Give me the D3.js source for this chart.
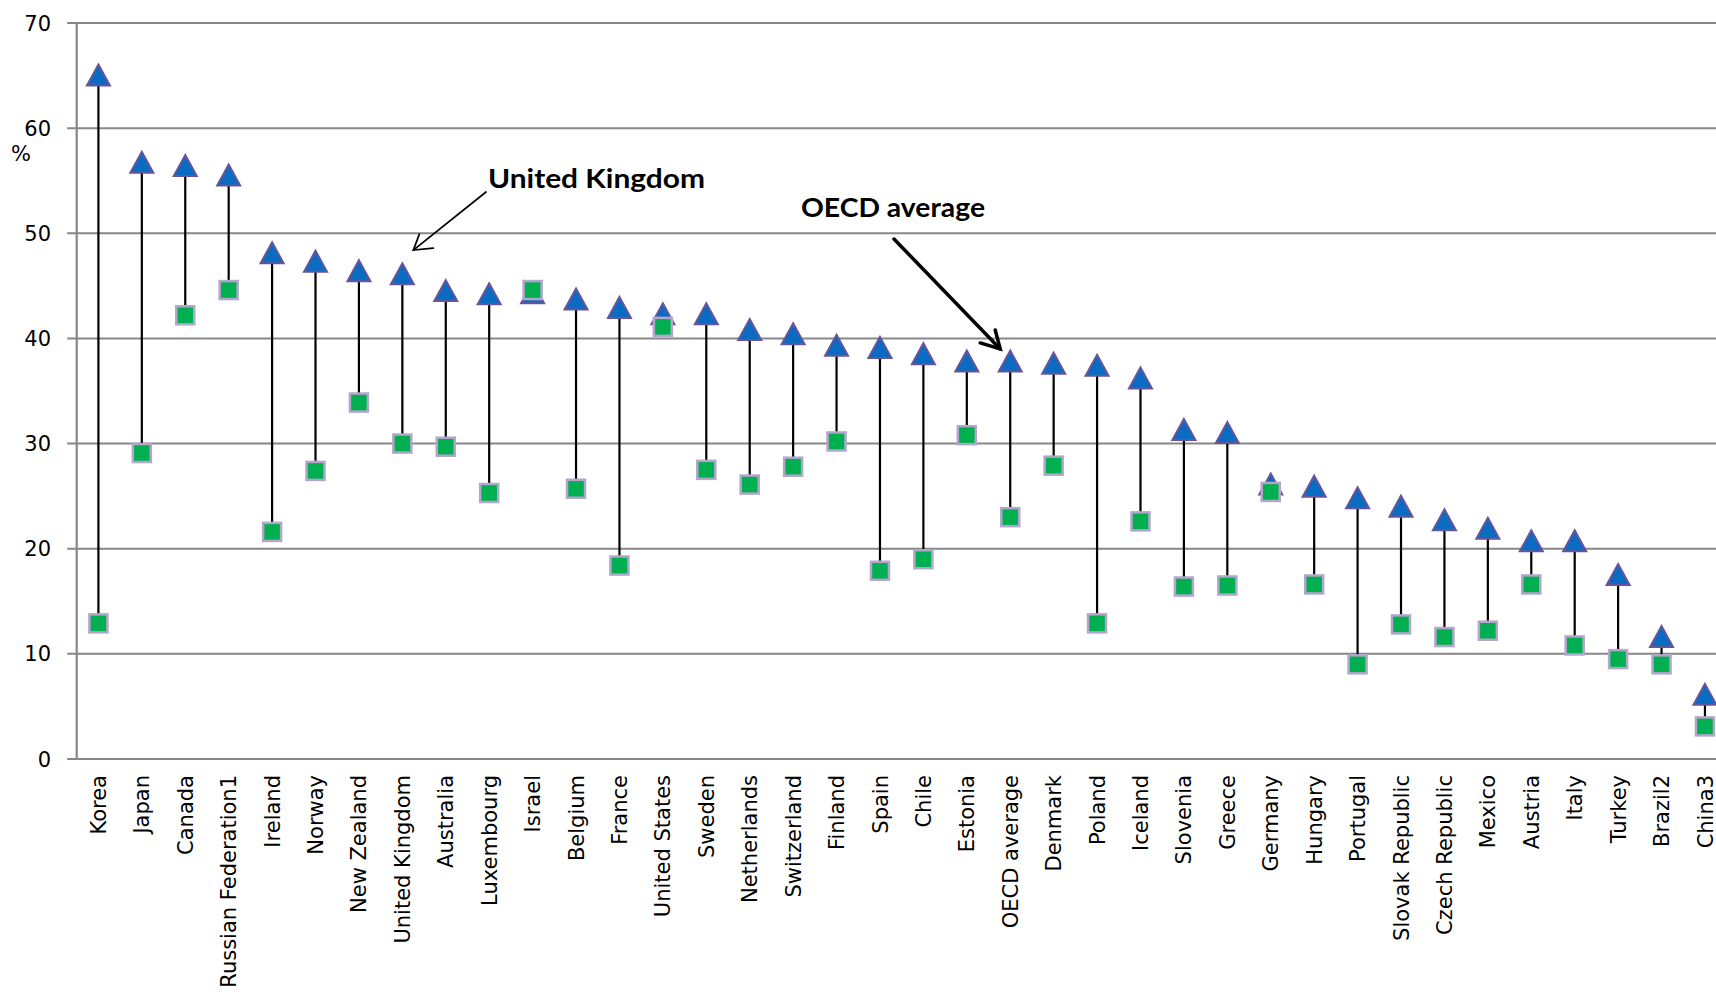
<!DOCTYPE html>
<html lang="en">
<head>
  <meta charset="UTF-8" />
  <title>Tertiary attainment by age group</title>
  <style>
    body {
      margin: 0;
      background: #fff;
    }
    svg {
      display: block;
    }
    .tick-label, .cat-label, .unit {
      font-family: "DejaVu Sans", Verdana, sans-serif;
      font-size: 21px;
      fill: #000;
    }
    .note {
      font-family: Lato, "Open Sans", sans-serif;
      font-weight: bold;
      font-size: 27px;
      fill: #000;
    }
  </style>
</head>
<body>
  <div id="chart"></div>

  <script src="https://d3js.org/d3.v7.min.js"></script>

  <script>
    // countries, in the order they appear on the axis
    const countries = [
      "Korea", "Japan", "Canada", "Russian Federation1", "Ireland", "Norway",
      "New Zealand", "United Kingdom", "Australia", "Luxembourg", "Israel",
      "Belgium", "France", "United States", "Sweden", "Netherlands",
      "Switzerland", "Finland", "Spain", "Chile", "Estonia", "OECD average",
      "Denmark", "Poland", "Iceland", "Slovenia", "Greece", "Germany",
      "Hungary", "Portugal", "Slovak Republic", "Czech Republic", "Mexico",
      "Austria", "Italy", "Turkey", "Brazil2", "China3"
    ];

    // triangles (younger group), %
    const younger = [
      65.0, 56.7, 56.4, 55.5, 48.1, 47.3,
      46.4, 46.1, 44.5, 44.2, 44.3,
      43.7, 42.9, 42.3, 42.3, 40.8,
      40.4, 39.3, 39.1, 38.5, 37.8, 37.8,
      37.6, 37.4, 36.2, 31.3, 31.0, 26.1,
      25.9, 24.8, 24.0, 22.7, 21.9,
      20.7, 20.7, 17.5, 11.6, 6.1
    ];

    // squares (older group), %
    const older = [
      12.9, 29.1, 42.2, 44.6, 21.6, 27.4,
      33.9, 30.0, 29.7, 25.3, 44.6,
      25.7, 18.4, 41.1, 27.5, 26.1,
      27.8, 30.2, 17.9, 19.0, 30.8, 23.0,
      27.9, 12.9, 22.6, 16.4, 16.5, 25.4,
      16.6, 9.0, 12.8, 11.6, 12.2,
      16.6, 10.8, 9.5, 9.0, 3.1
    ];

    const yTicks = [0, 10, 20, 30, 40, 50, 60, 70];

    const data = countries.map((c, i) => ({ name: c, hi: younger[i], lo: older[i] }));

    const W = 1716, H = 995;
    const plotLeft = 76.7, plotTop = 23, plotBottom = 759;
    const step = 43.42;

    const svg = d3.select("#chart")
      .append("svg")
      .attr("width", W)
      .attr("height", H);

    const x = d3.scalePoint()
      .domain(countries)
      .range([plotLeft, plotLeft + step * countries.length])
      .padding(0.5);

    const y = d3.scaleLinear()
      .domain([0, 70])
      .range([plotBottom, plotTop]);

    // gridlines + ticks
    svg.append("g")
      .selectAll("line")
      .data(yTicks)
      .enter()
      .append("line")
      .attr("x1", plotLeft - 9.5)
      .attr("x2", W)
      .attr("y1", d => y(d))
      .attr("y2", d => y(d))
      .attr("stroke", "#878787")
      .attr("stroke-width", 2);

    // y axis line
    svg.append("line")
      .attr("x1", plotLeft).attr("x2", plotLeft)
      .attr("y1", y(70)).attr("y2", y(0))
      .attr("stroke", "#878787")
      .attr("stroke-width", 2.2);

    svg.append("g")
      .selectAll("text")
      .data(yTicks)
      .enter()
      .append("text")
      .attr("class", "tick-label")
      .attr("x", 51)
      .attr("y", d => y(d))
      .attr("dy", "0.36em")
      .attr("text-anchor", "end")
      .text(d => d);

    svg.append("text")
      .attr("class", "unit")
      .attr("x", 21)
      .attr("y", 161)
      .attr("text-anchor", "middle")
      .text("%");

    // category labels, rotated
    svg.append("g")
      .selectAll("text")
      .data(countries)
      .enter()
      .append("text")
      .attr("class", "cat-label")
      .attr("transform", d => `translate(${x(d)},775) rotate(-90)`)
      .attr("dy", "0.36em")
      .attr("text-anchor", "end")
      .text(d => d);

    // high-low lines
    svg.append("g")
      .selectAll("line")
      .data(data)
      .enter()
      .append("line")
      .attr("x1", d => x(d.name))
      .attr("x2", d => x(d.name))
      .attr("y1", d => y(d.hi))
      .attr("y2", d => y(d.lo))
      .attr("stroke", "#000")
      .attr("stroke-width", 2.2);

    // triangles
    svg.append("g")
      .selectAll("path")
      .data(data)
      .enter()
      .append("path")
      .attr("transform", d => `translate(${x(d.name)},${y(d.hi)})`)
      .attr("d", "M0,-11 L11.5,10 L-11.5,10 Z")
      .attr("fill", "#0A6BC2")
      .attr("stroke", "#67559A")
      .attr("stroke-width", 2)
      .attr("stroke-linejoin", "miter");

    // squares
    svg.append("g")
      .selectAll("rect")
      .data(data)
      .enter()
      .append("rect")
      .attr("x", d => x(d.name) - 9)
      .attr("y", d => y(d.lo) - 9)
      .attr("width", 18)
      .attr("height", 18)
      .attr("fill", "#00B050")
      .attr("stroke", "#B3A5CC")
      .attr("stroke-width", 2.5);

    // annotations
    function arrow(from, tip, wingA, wingB, w) {
      const g = svg.append("g")
        .attr("stroke", "#000")
        .attr("stroke-width", w)
        .attr("stroke-linecap", "round")
        .attr("fill", "none");
      g.append("line")
        .attr("x1", from[0]).attr("y1", from[1])
        .attr("x2", tip[0]).attr("y2", tip[1]);
      g.append("path")
        .attr("d", `M${wingA[0]},${wingA[1]} L${tip[0]},${tip[1]} L${wingB[0]},${wingB[1]}`);
    }

    const ukX = x("United Kingdom"), ukTip = [ukX + 11, y(48.4)];
    svg.append("text")
      .attr("class", "note")
      .attr("x", 488)
      .attr("y", 188)
      .attr("textLength", 217)
      .attr("lengthAdjust", "spacingAndGlyphs")
      .text("United Kingdom");
    arrow([486, 192], ukTip, [ukTip[0] + 20, ukTip[1] - 2], [ukTip[0] + 6, ukTip[1] - 16], 1.7);

    const oeX = x("OECD average"), oeTip = [oeX - 10, y(39.0)];
    svg.append("text")
      .attr("class", "note")
      .attr("x", 801)
      .attr("y", 217)
      .attr("textLength", 184)
      .attr("lengthAdjust", "spacingAndGlyphs")
      .text("OECD average");
    arrow([894, 239], oeTip, [oeTip[0] - 20, oeTip[1] - 6], [oeTip[0] - 5, oeTip[1] - 19], 3.5);
  </script>
</body>
</html>
